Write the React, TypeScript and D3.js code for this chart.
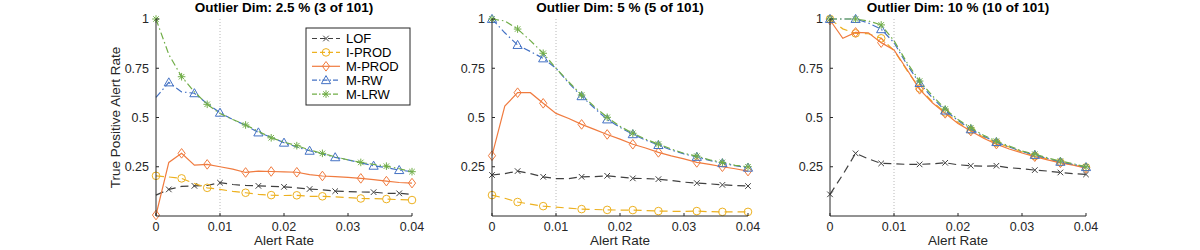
import { scaleLinear, line } from 'd3';
import React from 'react';

// Alert rate sampled every 0.002
const alertRate = [
	0, 0.002, 0.004, 0.006, 0.008, 0.01, 0.012, 0.014, 0.016, 0.018, 0.02,
	0.022, 0.024, 0.026, 0.028, 0.03, 0.032, 0.034, 0.036, 0.038, 0.04,
];

const titles = [
	'Outlier Dim: 2.5 % (3 of 101)',
	'Outlier Dim: 5 % (5 of 101)',
	'Outlier Dim: 10 % (10 of 101)',
];

const seriesNames = ['LOF', 'I-PROD', 'M-PROD', 'M-RW', 'M-LRW'];

const xTicks = [0, 0.01, 0.02, 0.03, 0.04];
const xTickLabels = ['0', '0.01', '0.02', '0.03', '0.04'];
const yTicks = [0.25, 0.5, 0.75, 1];
const yTickLabels = ['0.25', '0.5', '0.75', '1'];

// one row per panel
const lof = [
	[0.106, 0.135, 0.15, 0.153, 0.155, 0.169, 0.16, 0.155, 0.153, 0.15, 0.148, 0.143, 0.137, 0.133, 0.126, 0.124, 0.122, 0.121, 0.115, 0.115, 0.11],
	[0.208, 0.215, 0.228, 0.215, 0.199, 0.19, 0.19, 0.199, 0.2, 0.204, 0.198, 0.191, 0.19, 0.187, 0.18, 0.172, 0.167, 0.163, 0.158, 0.155, 0.152],
	[0.11, 0.21, 0.318, 0.29, 0.267, 0.265, 0.262, 0.262, 0.265, 0.27, 0.26, 0.255, 0.253, 0.255, 0.245, 0.24, 0.233, 0.228, 0.221, 0.215, 0.211],
];
const iProd = [
	[0.204, 0.198, 0.191, 0.165, 0.143, 0.135, 0.125, 0.118, 0.11, 0.106, 0.104, 0.105, 0.1, 0.1, 0.097, 0.093, 0.089, 0.088, 0.086, 0.083, 0.081],
	[0.106, 0.09, 0.071, 0.06, 0.05, 0.045, 0.04, 0.035, 0.033, 0.031, 0.03, 0.03, 0.028, 0.025, 0.024, 0.023, 0.025, 0.022, 0.021, 0.021, 0.021],
	[1.0, 0.95, 0.927, 0.925, 0.902, 0.84, 0.74, 0.648, 0.58, 0.526, 0.475, 0.436, 0.4, 0.372, 0.35, 0.325, 0.304, 0.29, 0.272, 0.26, 0.247],
];
const mProd = [
	[0.005, 0.272, 0.318, 0.258, 0.262, 0.25, 0.238, 0.221, 0.228, 0.226, 0.224, 0.222, 0.21, 0.203, 0.2, 0.196, 0.191, 0.185, 0.177, 0.17, 0.167],
	[0.306, 0.558, 0.626, 0.626, 0.572, 0.521, 0.495, 0.465, 0.44, 0.414, 0.39, 0.364, 0.345, 0.323, 0.305, 0.29, 0.272, 0.262, 0.25, 0.24, 0.228],
	[0.995, 0.902, 0.932, 0.93, 0.88, 0.843, 0.745, 0.643, 0.575, 0.521, 0.47, 0.431, 0.395, 0.365, 0.34, 0.32, 0.301, 0.285, 0.27, 0.258, 0.243],
];
const mRw = [
	[0.602, 0.678, 0.63, 0.623, 0.57, 0.524, 0.49, 0.46, 0.424, 0.4, 0.372, 0.35, 0.331, 0.315, 0.298, 0.285, 0.27, 0.255, 0.245, 0.233, 0.225],
	[1.0, 0.93, 0.868, 0.835, 0.8, 0.75, 0.675, 0.608, 0.548, 0.49, 0.45, 0.415, 0.385, 0.36, 0.335, 0.315, 0.3, 0.282, 0.268, 0.255, 0.245],
	[1.0, 1.0, 1.0, 0.98, 0.948, 0.88, 0.77, 0.675, 0.6, 0.535, 0.485, 0.44, 0.405, 0.375, 0.35, 0.328, 0.31, 0.292, 0.275, 0.262, 0.248],
];
const mLrw = [
	[1.0, 0.82, 0.707, 0.63, 0.567, 0.52, 0.49, 0.462, 0.43, 0.397, 0.375, 0.357, 0.335, 0.318, 0.3, 0.285, 0.272, 0.262, 0.253, 0.24, 0.225],
	[1.0, 0.99, 0.949, 0.89, 0.826, 0.75, 0.68, 0.614, 0.555, 0.501, 0.455, 0.42, 0.39, 0.365, 0.34, 0.318, 0.304, 0.285, 0.272, 0.257, 0.25],
	[1.0, 1.0, 1.0, 0.99, 0.97, 0.89, 0.78, 0.685, 0.61, 0.543, 0.49, 0.448, 0.41, 0.38, 0.355, 0.33, 0.314, 0.295, 0.279, 0.265, 0.25],
];

// marker positions (indices into alertRate)
const markA = [0, 2, 4, 7, 9, 11, 13, 16, 18, 20];
const markB = [1, 3, 5, 8, 10, 12, 14, 17, 19];
const markerIdx = [
	[markB, markA, markA, markB, markA],
	[markA, markA, markA, markA, markA],
	[markA, markA, markA, markA, markA],
];

const allSeries = [lof, iProd, mProd, mRw, mLrw];

const colors = ['#404040', '#EDB120', '#F07B3F', '#4472C4', '#70AD47'];
const dashes = ['8,5', '8,5', 'none', '7,3,1.5,3', '7,3,1.5,3'];
const markers = ['x', 'o', 'd', '^', '*'];

const panelLeft = [156, 492, 830];
const plotW = 256;
const plotTop = 19;
const plotBottom = 216;
const font = '"Liberation Sans", Arial, Helvetica, sans-serif';
const textColor = '#262626';

const Marker = ({ type, x, y, color }: { type: string; x: number; y: number; color: string }) => {
	const common = { stroke: color, strokeWidth: 1, fill: 'none' };
	if (type === 'x') {
		const s = 2.8;
		return <path d={`M${x - s},${y - s}L${x + s},${y + s}M${x - s},${y + s}L${x + s},${y - s}`} {...common} />;
	}
	if (type === 'o') return <circle cx={x} cy={y} r={3.8} {...common} />;
	if (type === 'd') {
		const w = 3.6, h = 4.8;
		return <path d={`M${x},${y - h}L${x + w},${y}L${x},${y + h}L${x - w},${y}Z`} {...common} />;
	}
	if (type === '^') {
		const s = 4.6;
		return <path d={`M${x},${y - s}L${x + s},${y + s * 0.75}L${x - s},${y + s * 0.75}Z`} {...common} />;
	}
	const s = 3.8;
	const d = s * 0.72;
	return (
		<path
			d={`M${x - s},${y}L${x + s},${y}M${x},${y - s}L${x},${y + s}M${x - d},${y - d}L${x + d},${y + d}M${x - d},${y + d}L${x + d},${y - d}`}
			{...common}
		/>
	);
};

const Panel = ({ p }: { p: number }) => {
	const x0 = panelLeft[p];
	const xScale = scaleLinear().domain([0, 0.04]).range([x0, x0 + plotW]);
	const yScale = scaleLinear().domain([0, 1]).range([plotBottom, plotTop]);
	const lineGen = line<number>()
		.x((_, i) => xScale(alertRate[i]))
		.y(d => yScale(d));

	return (
		<g>
			<line
				x1={xScale(0.01)}
				x2={xScale(0.01)}
				y1={plotTop}
				y2={plotBottom}
				stroke="#b8b8b8"
				strokeDasharray="1,2"
			/>
			{allSeries.map((s, k) => (
				<g key={k}>
					<path
						d={lineGen(s[p]) || ''}
						fill="none"
						stroke={colors[k]}
						strokeWidth={1.2}
						strokeDasharray={dashes[k]}
					/>
					{markerIdx[p][k].map(i => (
						<Marker key={i} type={markers[k]} x={xScale(alertRate[i])} y={yScale(s[p][i])} color={colors[k]} />
					))}
				</g>
			))}
			{/* axes */}
			<line x1={x0} x2={x0 + plotW} y1={plotBottom} y2={plotBottom} stroke={textColor} />
			<line x1={x0} x2={x0} y1={plotTop} y2={plotBottom} stroke={textColor} />
			{xTicks.map((t, i) => (
				<g key={t}>
					<line x1={xScale(t)} x2={xScale(t)} y1={plotBottom} y2={plotBottom - 3} stroke={textColor} />
					<text x={xScale(t)} y={plotBottom + 15} textAnchor="middle" fontSize={12.5} fill={textColor} fontFamily={font}>
						{xTickLabels[i]}
					</text>
				</g>
			))}
			{yTicks.map((t, i) => (
				<g key={t}>
					<line x1={x0} x2={x0 + 3} y1={yScale(t)} y2={yScale(t)} stroke={textColor} />
					<text x={x0 - 7} y={yScale(t)} dy=".35em" textAnchor="end" fontSize={12.5} fill={textColor} fontFamily={font}>
						{yTickLabels[i]}
					</text>
				</g>
			))}
			<text x={x0 + plotW / 2} y={plotBottom + 29} textAnchor="middle" fontSize={13.5} fill={textColor} fontFamily={font}>
				Alert Rate
			</text>
			<text x={x0 + plotW / 2} y={12} textAnchor="middle" fontSize={13.5} fontWeight="bold" fill="#000" fontFamily={font}>
				{titles[p]}
			</text>
		</g>
	);
};

const Legend = () => {
	const lx = 306;
	const ly = 28;
	const rowH = 13.9;
	return (
		<g>
			<rect x={lx} y={ly} width={104} height={77} fill="#fff" stroke={textColor} strokeWidth={1} />
			{seriesNames.map((name, k) => {
				const cy = ly + 10.5 + k * rowH;
				return (
					<g key={name}>
						<line x1={lx + 6} x2={lx + 34} y1={cy} y2={cy} stroke={colors[k]} strokeWidth={1.2} strokeDasharray={dashes[k] === 'none' ? 'none' : k === 0 || k === 1 ? '5,3' : '5,2,1.5,2'} />
						<Marker type={markers[k]} x={lx + 20} y={cy} color={colors[k]} />
						<text x={lx + 40} y={cy} dy=".35em" fontSize={13} fill="#000" fontFamily={font}>
							{name}
						</text>
					</g>
				);
			})}
		</g>
	);
};

const App = () => {
	return (
		<svg width={1200} height={250} style={{ position: 'absolute', left: 0, top: 0, background: '#fff' }}>
			{[0, 1, 2].map(p => (
				<Panel key={p} p={p} />
			))}
			<Legend />
			<text
				transform={`translate(120,${(plotTop + plotBottom) / 2}) rotate(-90)`}
				textAnchor="middle"
				fontSize={13.5}
				fill={textColor}
				fontFamily={font}
			>
				True Positive Alert Rate
			</text>
		</svg>
	);
};

export default App;
